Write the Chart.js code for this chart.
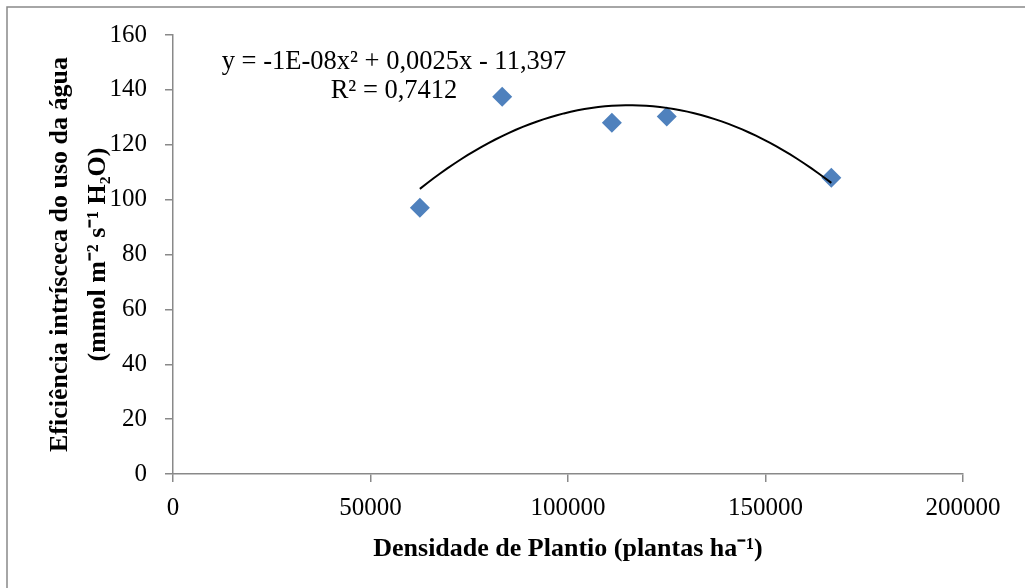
<!DOCTYPE html>
<html lang="pt">
<head>
<meta charset="utf-8">
<title>Eficiência intrínseca do uso da água</title>
<script src="https://cdn.jsdelivr.net/npm/chart.js@4/dist/chart.umd.min.js"></script>
<style>
    html, body { margin: 0; padding: 0; background: #fff; }
    #wrap { width: 1025px; height: 588px; position: relative; }
</style>
</head>
<body>
<div id="wrap"><canvas id="grafico"></canvas></div>
<script>
// ============================================================
//  Dados
// ============================================================
const densidade = [62500, 83333, 111111, 125000, 166667];   // plantas ha-1
const eficiencia = [97, 137.5, 128, 130.3, 108];           // mmol m-2 s-1 H2O
const ticksX = [0, 50000, 100000, 150000, 200000];
const ticksY = [0, 20, 40, 60, 80, 100, 120, 140, 160];
const equacao = ['y = -1E-08x² + 0,0025x - 11,397', 'R² = 0,7412'];

const CINZA = '#898989';
const AZUL = '#4F81BD';
const FONTE = "'Liberation Serif', 'Times New Roman', serif";

// ============================================================
//  Linha de tendência polinomial (ordem 2) por mínimos quadrados
// ============================================================
function ajustePolinomial(xs, ys) {
    // equações normais com x em unidades de 1e5 para estabilidade
    const s = [0, 0, 0, 0, 0], t = [0, 0, 0];
    xs.forEach((xv, i) => {
        const x = xv / 1e5;
        for (let k = 0; k < 5; k++) s[k] += Math.pow(x, k);
        for (let k = 0; k < 3; k++) t[k] += ys[i] * Math.pow(x, k);
    });
    const M = [[s[0], s[1], s[2], t[0]], [s[1], s[2], s[3], t[1]], [s[2], s[3], s[4], t[2]]];
    for (let c = 0; c < 3; c++) {
        for (let r = c + 1; r < 3; r++) {
            const f = M[r][c] / M[c][c];
            for (let k = c; k < 4; k++) M[r][k] -= f * M[c][k];
        }
    }
    const b = [0, 0, 0];
    for (let r = 2; r >= 0; r--) {
        let v = M[r][3];
        for (let k = r + 1; k < 3; k++) v -= M[r][k] * b[k];
        b[r] = v / M[r][r];
    }
    return x => { const u = x / 1e5; return b[0] + b[1] * u + b[2] * u * u; };
}

const tendencia = ajustePolinomial(densidade, eficiencia);
const xMin = Math.min(...densidade), xMax = Math.max(...densidade);
const curva = [];
for (let i = 0; i <= 60; i++) {
    const x = xMin + (xMax - xMin) * i / 60;
    curva.push({ x: x, y: tendencia(x) });
}

// ============================================================
//  Plugins: moldura e equação
// ============================================================
const moldura = {
    id: 'moldura',
    beforeDraw(chart) {
        const c = chart.ctx;
        c.save();
        c.fillStyle = '#fff';
        c.fillRect(0, 0, chart.width, chart.height);
        c.strokeStyle = CINZA;
        c.lineWidth = 1.5;
        c.strokeRect(7, 7, chart.width + 20, chart.height + 20);
        c.restore();
    }
};

const rotuloEquacao = {
    id: 'rotuloEquacao',
    afterDatasetsDraw(chart) {
        const c = chart.ctx;
        c.save();
        c.fillStyle = '#000';
        c.font = '26.5px ' + FONTE;
        c.textAlign = 'center';
        c.textBaseline = 'middle';
        c.fillText(equacao[0], 394, 62);
        c.fillText(equacao[1], 394, 91);
        c.restore();
    }
};

// ============================================================
//  Gráfico
// ============================================================
new Chart(document.getElementById('grafico'), {
    type: 'scatter',
    data: {
        datasets: [
            {
                label: 'Tendência',
                type: 'line',
                data: curva,
                borderColor: '#000',
                borderWidth: 2,
                pointRadius: 0,
                tension: 0,
                order: 1
            },
            {
                label: 'Eficiência',
                data: densidade.map((x, i) => ({ x: x, y: eficiencia[i] })),
                pointStyle: 'rectRot',
                pointRadius: 10,
                pointHoverRadius: 10,
                backgroundColor: AZUL,
                borderColor: AZUL,
                borderWidth: 0,
                order: 2
            }
        ]
    },
    options: {
        responsive: true,
        maintainAspectRatio: false,
        animation: false,
        layout: { padding: { top: 35, right: 62, left: 0, bottom: 0 } },
        plugins: {
            legend: { display: false },
            tooltip: { enabled: false }
        },
        scales: {
            x: {
                type: 'linear',
                min: 0,
                max: 200000,
                afterBuildTicks: s => { s.ticks = ticksX.map(v => ({ value: v })); },
                afterFit: s => { s.height = 114; },
                border: { color: CINZA, width: 1.5 },
                grid: { drawOnChartArea: false, color: CINZA, tickLength: 8, lineWidth: 1.5 },
                ticks: {
                    color: '#000',
                    padding: 11,
                    maxRotation: 0,
                    font: { family: FONTE, size: 25 },
                    callback: v => String(v)
                },
                title: {
                    display: true,
                    text: 'Densidade de Plantio (plantas ha⁻¹)',
                    color: '#000',
                    font: { family: FONTE, size: 26, weight: 'bold' },
                    padding: { top: 0, bottom: 23 }
                }
            },
            y: {
                min: 0,
                max: 160,
                afterBuildTicks: s => { s.ticks = ticksY.map(v => ({ value: v })); },
                afterFit: s => { s.width = 173; },
                border: { color: CINZA, width: 1.5 },
                grid: { drawOnChartArea: false, color: CINZA, tickLength: 8, lineWidth: 1.5 },
                ticks: {
                    color: '#000',
                    padding: 18,
                    font: { family: FONTE, size: 25 }
                },
                title: {
                    display: true,
                    text: ['Eficiência intrísceca do uso da água', '(mmol m⁻² s⁻¹ H₂O)'],
                    color: '#000',
                    font: { family: FONTE, size: 26, weight: 'bold', lineHeight: 1.46 },
                    padding: { top: 41, bottom: 0 }
                }
            }
        }
    },
    plugins: [moldura, rotuloEquacao]
});
</script>
</body>
</html>
